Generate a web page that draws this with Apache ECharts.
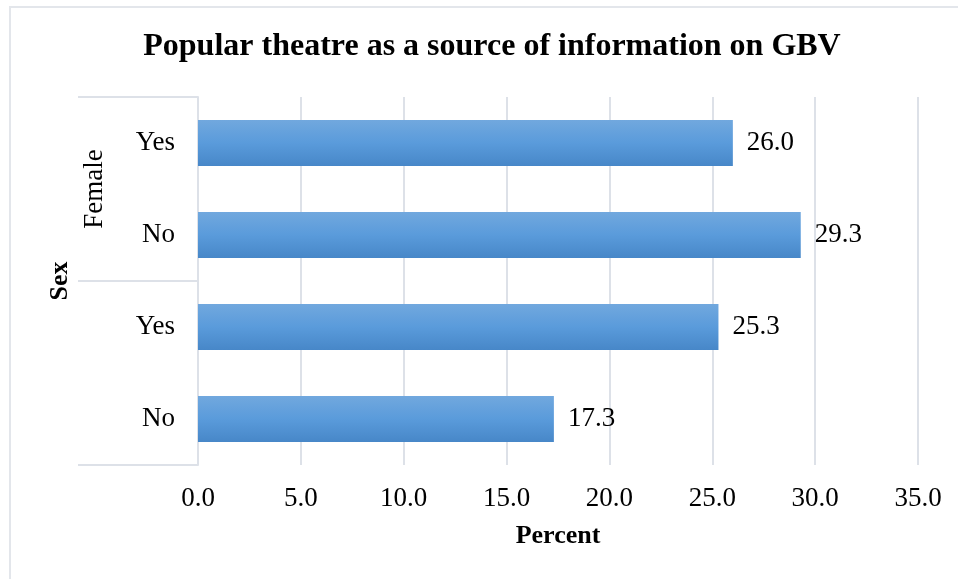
<!DOCTYPE html>
<html>
<head>
<meta charset="utf-8">
<script src="https://cdn.jsdelivr.net/npm/echarts@6/dist/echarts.min.js"></script>
<style>
html, body { margin: 0; padding: 0; background: #fff; }
#box { width: 958px; height: 579px; }
</style>
</head>
<body>
<div id="box"></div>
<script>
// top to bottom, as in the picture
var answers = ['Yes', 'No', 'Yes', 'No'];
var groups = ['Female', ''];
var percent = [26.0, 29.3, 25.3, 17.3];
var ticks = [0, 5, 10, 15, 20, 25, 30, 35];

var font = 'Liberation Serif';
var gridColor = '#dde1e8';

var myChart = echarts.init(document.getElementById('box'));

var option = {
    backgroundColor: '#fff',
    animation: false,
    title: {
        text: 'Popular theatre as a source of information on GBV',
        left: 487,
        top: 26,
        textAlign: 'center',
        textStyle: { fontFamily: font, fontSize: 32, fontWeight: 'bold', color: '#000' }
    },
    grid: { left: 198, right: 40, top: 97, bottom: 114 },
    xAxis: {
        type: 'value',
        min: ticks[0],
        max: ticks[ticks.length - 1],
        interval: 5,
        name: 'Percent',
        nameLocation: 'middle',
        nameGap: 58,
        nameTextStyle: { fontFamily: font, fontSize: 26, fontWeight: 'bold', color: '#000' },
        axisLine: { show: false },
        axisTick: { show: false },
        axisLabel: {
            margin: 20,
            fontFamily: font, fontSize: 27, color: '#000',
            formatter: function (v) { return v.toFixed(1); }
        },
        splitLine: { lineStyle: { color: gridColor, width: 2 } }
    },
    yAxis: [
        {
            type: 'category',
            inverse: true,
            data: answers,
            axisLine: { lineStyle: { color: gridColor, width: 2 } },
            axisTick: { show: false },
            axisLabel: { margin: 23, fontFamily: font, fontSize: 27, color: '#000' }
        },
        {
            type: 'category',
            inverse: true,
            position: 'left',
            data: groups,
            name: 'Sex',
            nameLocation: 'middle',
            nameGap: 125,
            nameRotate: 90,
            nameTextStyle: { fontFamily: font, fontSize: 26, fontWeight: 'bold', color: '#000' },
            axisLine: { show: false },
            axisTick: { show: true, length: 120, interval: 0, lineStyle: { color: gridColor, width: 2 } },
            axisLabel: { rotate: 90, margin: 90, fontFamily: font, fontSize: 27, color: '#000' },
            splitLine: { show: false }
        }
    ],
    series: [
        {
            type: 'bar',
            data: percent,
            barWidth: '50%',
            itemStyle: {
                color: new echarts.graphic.LinearGradient(0, 0, 0, 1, [
                    { offset: 0, color: '#71a8de' },
                    { offset: 0.5, color: '#5a9bdb' },
                    { offset: 1, color: '#4787c8' }
                ])
            },
            label: {
                show: true,
                position: 'right',
                distance: 14,
                fontFamily: font, fontSize: 27, color: '#000',
                formatter: function (p) { return p.value.toFixed(1); }
            }
        }
    ],
    graphic: [
        { type: 'line', shape: { x1: 9, y1: 7, x2: 958, y2: 7 }, style: { stroke: '#e3e6eb', lineWidth: 2 } },
        { type: 'line', shape: { x1: 10, y1: 7, x2: 10, y2: 579 }, style: { stroke: '#e3e6eb', lineWidth: 2 } }
    ]
};

option && myChart.setOption(option);
</script>
</body>
</html>
